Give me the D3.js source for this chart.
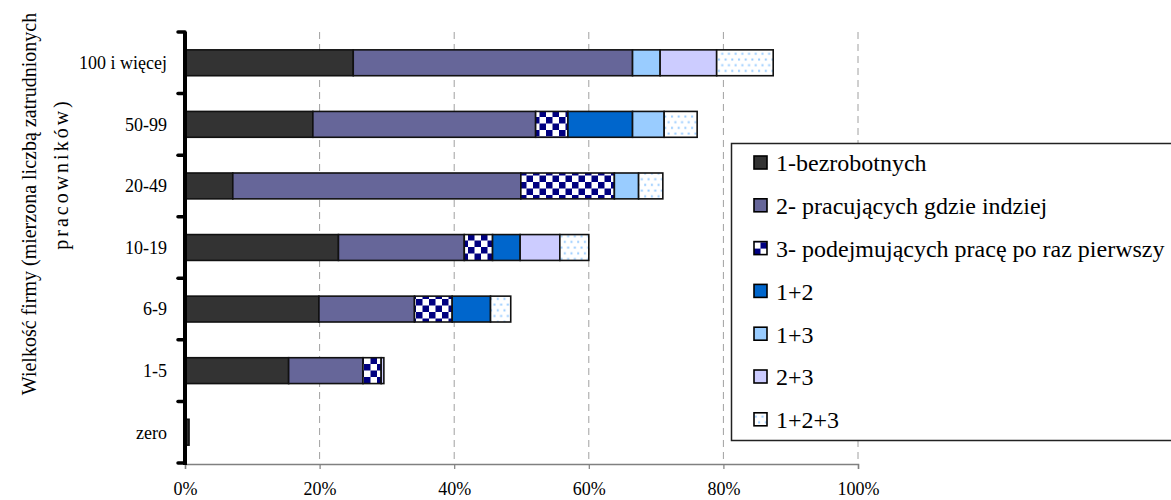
<!DOCTYPE html>
<html>
<head>
<meta charset="utf-8">
<script src="https://cdn.jsdelivr.net/npm/d3@7"></script>
<style>
  html, body { margin: 0; padding: 0; background: #fff; }
  svg { display: block; font-family: "Liberation Serif", "Times New Roman", serif; }
  svg text { font-family: "Liberation Serif", "Times New Roman", serif; }
</style>
</head>
<body>
<svg id="chart" width="1171" height="500"></svg>
<script>
// ---- data ----
const categories = ["100 i więcej", "50-99", "20-49", "10-19", "6-9", "1-5", "zero"];
const seriesNames = ["1-bezrobotnych", "2- pracujących gdzie indziej", "3- podejmujących pracę po raz pierwszy", "1+2", "1+3", "2+3", "1+2+3"];
const s1   = [25.0, 19.0, 7.1, 22.8, 19.9, 15.4, 0.6];
const s2   = [41.5, 33.1, 42.8, 18.7, 14.2, 11.05, 0];
const s3   = [0, 4.8, 13.9, 4.2, 5.6, 2.7, 0];
const s12  = [0, 9.6, 0, 4.1, 5.7, 0, 0];
const s13  = [4.1, 4.7, 3.6, 0, 0, 0, 0];
const s23  = [8.4, 0, 0, 5.9, 0, 0.4, 0];
const s123 = [8.4, 4.9, 3.6, 4.3, 3.0, 0, 0];
const xTicks = [0, 20, 40, 60, 80, 100];
const yTitle1 = "Wielkość firmy (mierzona liczbą zatrudnionych";
const yTitle2 = "pracowników)";

const seriesValues = [s1, s2, s3, s12, s13, s23, s123];
const fills = ["#333333", "#666699", "url(#checker)", "#0066CC", "#99CCFF", "#CCCCFF", "url(#dots)"];
const FONT = "Liberation Serif, Times New Roman, serif";

const svg = d3.select("#chart");
const defs = svg.append("defs");

// checker pattern
const chk = defs.append("pattern").attr("id", "checker").attr("patternUnits", "userSpaceOnUse")
  .attr("width", 13).attr("height", 13);
chk.append("rect").attr("width", 13).attr("height", 13).attr("fill", "#fff");
chk.append("rect").attr("x", 0).attr("y", 0).attr("width", 6.5).attr("height", 6.5).attr("fill", "#000080");
chk.append("rect").attr("x", 6.5).attr("y", 6.5).attr("width", 6.5).attr("height", 6.5).attr("fill", "#000080");

// dotted pattern
const dots = defs.append("pattern").attr("id", "dots").attr("patternUnits", "userSpaceOnUse")
  .attr("width", 6.7).attr("height", 11.4);
dots.append("rect").attr("width", 6.7).attr("height", 11.4).attr("fill", "#fff");
dots.append("rect").attr("x", 1).attr("y", 1.5).attr("width", 2).attr("height", 2).attr("fill", "#99CCFF");
dots.append("rect").attr("x", 4.35).attr("y", 7.2).attr("width", 2).attr("height", 2).attr("fill", "#99CCFF");

// scales
const x = d3.scaleLinear().domain([0, 100]).range([185, 858]);
const y = d3.scaleBand().domain(categories).range([32, 463]).paddingInner(0.58).paddingOuter(0.29);

const plotTop = 32, plotBottom = 464;

// gridlines
svg.append("g").selectAll("line").data(xTicks.filter(d => d > 0)).join("line")
  .attr("x1", d => x(d)).attr("x2", d => x(d))
  .attr("y1", plotTop).attr("y2", plotBottom)
  .attr("stroke", "#a0a0a0").attr("stroke-width", 1).attr("stroke-dasharray", "7,5");

// x axis
const xAxis = svg.append("g").attr("transform", `translate(0,${plotBottom})`)
  .call(d3.axisBottom(x).tickValues(xTicks).tickFormat(d => d + "%").tickSize(5).tickPadding(13));
xAxis.attr("font-family", FONT);
xAxis.select(".domain").attr("stroke", "#808080").attr("stroke-width", 1.5);
xAxis.selectAll(".tick line").attr("stroke", "#808080").attr("stroke-width", 1.2);
xAxis.selectAll("text").attr("font-family", FONT).attr("font-size", 18).attr("fill", "#000");

// stacked bars
const rows = categories.map((c, i) => {
  const o = { cat: c };
  seriesNames.forEach((s, j) => o[s] = seriesValues[j][i]);
  return o;
});
const stack = d3.stack().keys(seriesNames)(rows);
const gBars = svg.append("g");
stack.forEach((layer, j) => {
  gBars.append("g").selectAll("rect").data(layer.filter(d => d[1] - d[0] > 0)).join("rect")
    .attr("x", d => x(d[0]))
    .attr("y", d => y(d.data.cat))
    .attr("width", d => x(d[1]) - x(d[0]))
    .attr("height", y.bandwidth())
    .attr("fill", fills[j])
    .attr("stroke", "#111")
    .attr("stroke-width", 1.6);
});

// y axis (thick black)
const yBoundaries = categories.map(c => y(c) - y.step() * y.paddingInner() / 2);
yBoundaries.push(463);
svg.append("line").attr("x1", 185).attr("x2", 185).attr("y1", plotTop).attr("y2", 465)
  .attr("stroke", "#000").attr("stroke-width", 4);
svg.append("g").selectAll("line").data(yBoundaries).join("line")
  .attr("x1", 178).attr("x2", 185).attr("y1", d => d).attr("y2", d => d)
  .attr("stroke", "#000").attr("stroke-width", 3.5).attr("stroke-linecap", "round");

// y tick labels
svg.append("g").selectAll("text").data(categories).join("text")
  .attr("x", 167).attr("y", d => y(d) + y.bandwidth() / 2)
  .attr("dy", "0.35em").attr("text-anchor", "end").attr("font-family", FONT)
  .attr("font-size", 18).attr("fill", "#000").text(d => d);

// y title
svg.append("text").attr("transform", "translate(36,204) rotate(-90)")
  .attr("text-anchor", "middle").attr("font-family", FONT).attr("font-size", 20).attr("fill", "#000")
  .text(yTitle1);
svg.append("text").attr("transform", "translate(68,174) rotate(-90)")
  .attr("text-anchor", "middle").attr("font-family", FONT).attr("font-size", 20).attr("fill", "#000")
  .attr("letter-spacing", 3).text(yTitle2);
svg.append("text").attr("x", 56).attr("y", 150).attr("font-family", FONT).attr("font-size", 18).attr("fill", "#000").text(".");

// legend
const lg = svg.append("g");
lg.append("rect").attr("x", 731.5).attr("y", 143.5).attr("width", 460).attr("height", 297)
  .attr("fill", "#fff").attr("stroke", "#222").attr("stroke-width", 1.5);
const lgStep = 42.8;
const items = lg.selectAll("g.item").data(seriesNames).join("g").attr("class", "item")
  .attr("transform", (d, i) => `translate(0,${163 + i * lgStep})`);
items.append("rect").attr("x", 754).attr("y", -7).attr("width", 13).attr("height", 13)
  .attr("fill", (d, i) => fills[i]).attr("stroke", "#000").attr("stroke-width", 1.6);
items.append("text").attr("x", 776).attr("y", 0).attr("dy", "0.35em").attr("font-family", FONT)
  .attr("font-size", 24).attr("fill", "#000").text(d => d);
</script>
</body>
</html>
